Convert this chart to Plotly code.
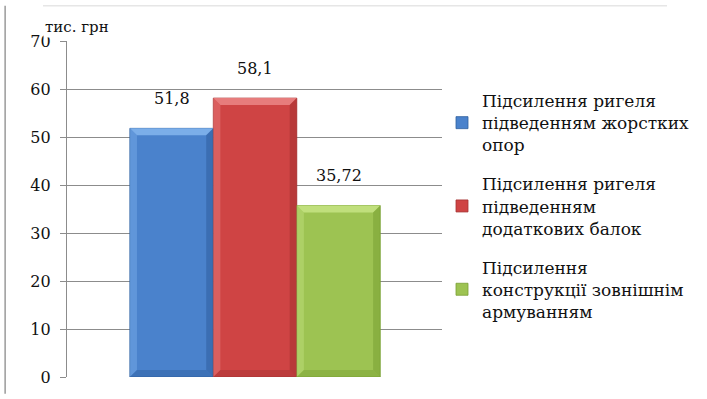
import plotly.graph_objects as go

# Cost of strengthening options, thousand UAH
series_names = [
    "Підсилення ригеля<br>підведенням жорстких<br>опор",
    "Підсилення ригеля<br>підведенням<br>додаткових балок",
    "Підсилення<br>конструкції зовнішнім<br>армуванням",
]
values = [51.8, 58.1, 35.72]
y_ticks = [0, 10, 20, 30, 40, 50, 60, 70]
unit_label = "тис. грн"

body_colors = ["#4A82CC", "#CF4444", "#9DC352"]
light_colors = ["#7DB0EA", "#E88080", "#C2E07E"]
dark_colors = ["#2F5F9E", "#A53232", "#78A033"]

FONT = "DejaVu Serif"

fig = go.Figure()
for i, (name, v) in enumerate(zip(series_names, values)):
    fig.add_trace(go.Bar(
        x=[i], y=[v], width=1, name=name, legendgroup=f"g{i}",
        marker=dict(color=body_colors[i], line=dict(color=dark_colors[i], width=0.8)),
        hoverinfo="y",
    ))

# bevel edges on each bar (derived from the bar values)
bx, by = 0.085, 1.45
shapes = []
for i, v in enumerate(values):
    x0, x1 = i - 0.5, i + 0.5
    top = f"M{x0},{v} L{x1},{v} L{x1-bx},{v-by} L{x0+bx},{v-by} Z"
    left = f"M{x0},{v} L{x0+bx},{v-by} L{x0+bx},{by} L{x0},0 Z"
    right = f"M{x1},{v} L{x1-bx},{v-by} L{x1-bx},{by} L{x1},0 Z"
    bottom = f"M{x0},0 L{x1},0 L{x1-bx},{by} L{x0+bx},{by} Z"
    for p, c, op in [(top, light_colors[i], 0.95), (left, light_colors[i], 0.45),
                     (right, dark_colors[i], 0.55), (bottom, dark_colors[i], 0.45)]:
        shapes.append(dict(type="path", path=p, xref="x", yref="y",
                           fillcolor=c, opacity=op, line=dict(width=0), layer="above"))

# outer frame lines
shapes.append(dict(type="line", xref="paper", yref="paper", x0=-0.165, x1=-0.165,
                   y0=-0.05, y1=1.105, line=dict(color="#9a9a9a", width=1.5)))
shapes.append(dict(type="line", xref="paper", yref="paper", x0=-0.064, x1=1.6,
                   y0=1.105, y1=1.105, line=dict(color="#e6e6e6", width=1.5)))

annotations = []
for i, v in enumerate(values):
    annotations.append(dict(x=i, y=v, xref="x", yref="y", text=str(v).replace(".", ","),
                            showarrow=False, yshift=30, font=dict(family=FONT, size=16, color="#111")))
# unit caption sits over the top tick label, partly hiding it
annotations.append(dict(x=-0.064, y=1.0, xref="paper", yref="paper", xanchor="left",
                        yanchor="bottom", yshift=3, text=unit_label, showarrow=False,
                        bgcolor="white", borderpad=1,
                        font=dict(family=FONT, size=15, color="#111")))

fig.update_layout(
    width=707, height=399,
    margin=dict(l=67, r=264, t=41, b=16),
    paper_bgcolor="white", plot_bgcolor="white",
    barmode="overlay",
    showlegend=True,
    legend=dict(x=1.0, y=0.875, xanchor="left", yanchor="top",
                traceorder="grouped",
                font=dict(family=FONT, size=17, color="#111"),
                tracegroupgap=14, itemwidth=30, bgcolor="rgba(0,0,0,0)"),
    xaxis=dict(range=[-1.253, 3.24], showticklabels=False, showgrid=False,
               zeroline=False, showline=False, fixedrange=True),
    yaxis=dict(range=[0, 70], tickvals=y_ticks, ticks="outside", ticklen=6,
               tickcolor="#8c8c8c", showgrid=True, gridcolor="#8c8c8c", gridwidth=1.4,
               showline=True, linecolor="#8c8c8c", linewidth=1.4, zeroline=False,
               tickfont=dict(family=FONT, size=16, color="#111"), ticklabelstandoff=6),
    shapes=shapes,
    annotations=annotations,
)

fig.write_html("out.html")
